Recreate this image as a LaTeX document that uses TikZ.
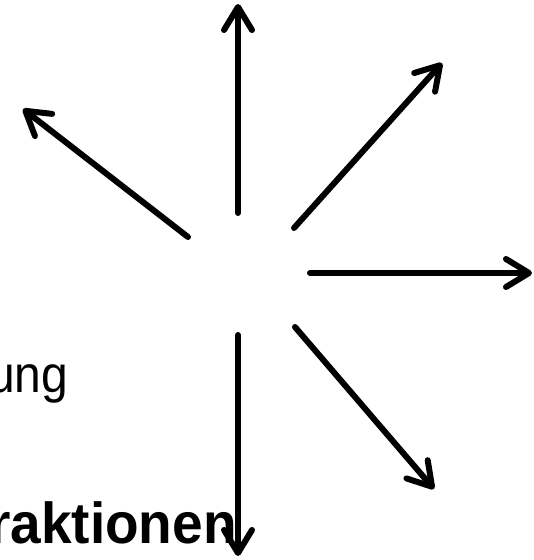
\documentclass[tikz,border=0pt]{standalone}
\usepackage{fontspec}
\setmainfont{Liberation Sans}
\usetikzlibrary{arrows.meta}
\begin{document}
\begin{tikzpicture}[x=1pt,y=-1pt,
  ray/.style={line width=6pt, line cap=round,
    -{Straight Barb[length=23pt,width=28pt,round]}},
  lbl/.style={inner sep=0pt, anchor=base west, font=\fontsize{48}{56}\selectfont},
  lblb/.style={inner sep=0pt, anchor=base west, font=\fontsize{55}{62}\selectfont\bfseries}]
\useasboundingbox (0,0) rectangle (534,560);
\clip (0,0) rectangle (534,560);
\fill[white] (0,0) rectangle (534,560);
% text fragments
\node[lbl]  (t1) at (-12,392) {\scalebox{1}[1.08]{ung}};
\node[lblb] (t2) at (-11,543) {\scalebox{1}[1.05]{raktionen}};
% ray end points
\coordinate (uS)  at (238,213); \coordinate (uE)  at (238,4);
\coordinate (ulS) at (188,237); \coordinate (ulE) at (23,109);
\coordinate (urS) at (294,228); \coordinate (urE) at (442,63);
\coordinate (rS)  at (310,273); \coordinate (rE)  at (532,273);
\coordinate (lrS) at (295,327); \coordinate (lrE) at (434,489);
\coordinate (dS)  at (238,335); \coordinate (dE)  at (238,556);
\draw[ray] (uS) -- (uE);
\draw[ray] (ulS) -- (ulE);
\draw[ray] (urS) -- (urE);
\draw[ray] (rS) -- (rE);
\draw[ray] (lrS) -- (lrE);
\draw[ray] (dS) -- (dE);
\end{tikzpicture}
\end{document}
